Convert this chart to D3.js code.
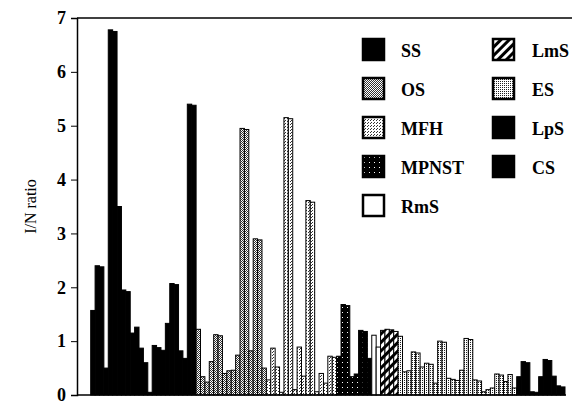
<!DOCTYPE html>
<html>
<head>
<meta charset="utf-8">
<script src="https://cdn.jsdelivr.net/npm/d3@7"></script>
<style>
  body { margin: 0; background: #fff; }
  svg text { font-family: "Liberation Serif", "DejaVu Serif", serif; fill: #000; }
</style>
</head>
<body>
<svg class="chart" width="572" height="405"></svg>
<script>
// tumour types, in the order the bars are drawn
const types = ["SS", "OS", "MFH", "MPNST", "RmS", "LmS", "ES", "LpS", "CS"];

// I/N ratio of each case, one list per type
const ssValues = [1.57, 2.4, 2.38, 0.5, 6.78, 6.75, 3.5, 1.95, 1.92, 1.15, 1.26, 0.87,
    0.6, 0.05, 0.92, 0.88, 0.83, 1.33, 2.07, 2.05, 0.82, 0.68, 5.4, 5.38];
const osValues = [1.22, 0.34, 0.24, 0.62, 1.12, 1.1, 0.4, 0.45, 0.46, 0.74, 4.95, 4.93,
    0.82, 2.9, 2.88, 0.5];
const mfhValues = [0.28, 0.87, 0.52, 0.05, 5.15, 5.13, 0.1, 0.89, 0.35, 3.61, 3.58, 0.06,
    0.4, 0.22, 0.72, 0.7];
const mpnstValues = [0.72, 1.68, 1.66, 0.34, 0.39, 1.2, 1.18, 0.68];
const rmsValues = [1.11, 0.89];
const lmsValues = [1.2, 1.22, 1.21, 1.18];
const esValues = [1.09, 0.43, 0.45, 0.8, 0.78, 0.52, 0.59, 0.57, 0.22, 1.0, 0.98, 0.31,
    0.29, 0.27, 0.46, 1.05, 1.03, 0.28, 0.26, 0.06, 0.1, 0.13, 0.39, 0.37, 0.25, 0.38, 0.13];
const lpsValues = [0.34, 0.62, 0.6, 0.06, 0.05];
const csValues = [0.34, 0.66, 0.64, 0.35, 0.17, 0.15];

const yTicks = [0, 1, 2, 3, 4, 5, 6, 7];

const valuesByType = {
    SS: ssValues, OS: osValues, MFH: mfhValues, MPNST: mpnstValues, RmS: rmsValues,
    LmS: lmsValues, ES: esValues, LpS: lpsValues, CS: csValues
};

// flatten into one row per bar
let bars = [];
types.forEach(t => {
    valuesByType[t].forEach((v, i) => bars.push({ type: t, id: t + i, value: v }));
});

const svg = d3.select("svg.chart");
const defs = svg.append("defs");

// fill patterns, roughly like the printed screens
function dotPattern(id, size, bg, fg, dots) {
    let p = defs.append("pattern")
        .attr("id", id)
        .attr("patternUnits", "userSpaceOnUse")
        .attr("width", size)
        .attr("height", size);
    p.append("rect").attr("width", size).attr("height", size).attr("fill", bg);
    dots.forEach(d => {
        p.append("rect").attr("x", d[0]).attr("y", d[1])
            .attr("width", 1).attr("height", 1).attr("fill", fg);
    });
}
dotPattern("pOS", 2, "#fff", "#333", [[0, 0], [1, 1]]);
dotPattern("pMFH", 3, "#fff", "#333", [[0, 0], [2, 1]]);
dotPattern("pES", 2, "#fff", "#222", [[0, 0]]);
dotPattern("pMPNST", 5, "#000", "#fff", [[2, 2]]);

let hatch = defs.append("pattern")
    .attr("id", "pLmS")
    .attr("patternUnits", "userSpaceOnUse")
    .attr("width", 6)
    .attr("height", 6)
    .attr("patternTransform", "rotate(45)");
hatch.append("rect").attr("width", 6).attr("height", 6).attr("fill", "#fff");
hatch.append("rect").attr("width", 3).attr("height", 6).attr("fill", "#000");

const fills = {
    SS: "#000", OS: "url(#pOS)", MFH: "url(#pMFH)", MPNST: "url(#pMPNST)", RmS: "#fff",
    LmS: "url(#pLmS)", ES: "url(#pES)", LpS: "#000", CS: "#000"
};

const x = d3.scaleBand()
    .domain(bars.map(d => d.id))
    .range([90.7, 565])
    .padding(0);

const y = d3.scaleLinear()
    .domain([0, 7])
    .range([395, 18]);

// bars
svg.append("g")
    .attr("class", "bars")
    .selectAll("rect")
    .data(bars)
    .join("rect")
    .attr("x", d => x(d.id))
    .attr("y", d => y(d.value))
    .attr("width", x.bandwidth())
    .attr("height", d => y(0) - y(d.value))
    .attr("fill", d => fills[d.type])
    .attr("stroke", "#000")
    .attr("stroke-width", 1);

// y axis
let yAxis = svg.append("g")
    .attr("transform", "translate(77,0)")
    .call(d3.axisLeft(y).tickValues(yTicks).tickSize(6).tickPadding(5).tickFormat(d3.format("d")));
yAxis.select(".domain").attr("stroke-width", 1.5);
yAxis.selectAll("text")
    .style("font-family", "'Liberation Serif', serif")
    .style("font-size", "18px")
    .style("font-weight", "bold");

// frame: top and bottom lines
svg.append("line")
    .attr("x1", 77).attr("x2", 572)
    .attr("y1", y(7)).attr("y2", y(7))
    .attr("stroke", "#000").attr("stroke-width", 1.5);
svg.append("line")
    .attr("x1", 77).attr("x2", 566)
    .attr("y1", y(0)).attr("y2", y(0))
    .attr("stroke", "#000").attr("stroke-width", 1.5);

svg.append("text")
    .attr("transform", "translate(36," + y(3.5) + ") rotate(-90)")
    .attr("text-anchor", "middle")
    .style("font-size", "16px")
    .text("I/N ratio");

// legend, two columns
let legend = svg.append("g").attr("class", "legend");
types.forEach((t, i) => {
    let col = i < 5 ? 0 : 1;
    let row = i < 5 ? i : i - 5;
    let gx = col === 0 ? 362 : 492;
    let gy = 38 + row * 39;
    let item = legend.append("g").attr("transform", "translate(" + gx + "," + gy + ")");
    item.append("rect")
        .attr("x", 1).attr("y", 1)
        .attr("width", 21).attr("height", 21)
        .attr("fill", fills[t])
        .attr("stroke", "#000")
        .attr("stroke-width", 2.5);
    item.append("text")
        .attr("x", col === 0 ? 39 : 40)
        .attr("y", 19)
        .style("font-size", "18px")
        .style("font-weight", "bold")
        .text(t);
});
</script>
</body>
</html>
